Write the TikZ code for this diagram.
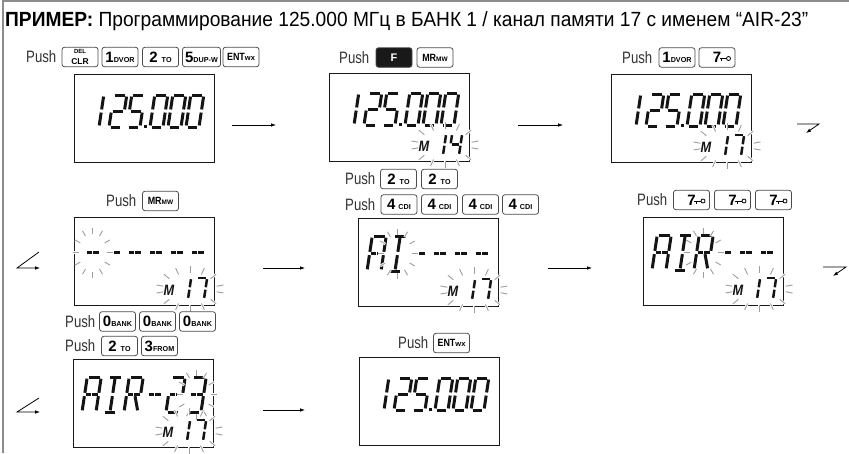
\documentclass[tikz,border=0pt]{standalone}
\usepackage{fontspec}
\usepackage{graphicx}
\setmainfont{Liberation Sans}
\newfontfamily\cond{Liberation Sans}[FakeStretch=0.85]
\newfontfamily\pushfont{Liberation Sans}[FakeStretch=0.8]
\usetikzlibrary{arrows.meta}

\tikzset{
 lcd/.style={draw=black!90, line width=1.4pt, minimum width=140pt, minimum height=88pt, inner sep=0pt, anchor=north west},
 keycap/.style={draw=black!70, line width=0.8pt, rounded corners=2.5pt, minimum width=36pt, minimum height=19.5pt, inner sep=0pt, font=\bfseries},
 pushtxt/.style={anchor=west, inner sep=0pt, font=\pushfont\fontsize{16.5}{16.5}\selectfont, text=black!80},
 mtxt/.style={inner sep=0pt, font=\cond\bfseries\itshape\fontsize{15}{15}\selectfont, text=black!92},
 arr/.style={line width=0.8pt, -{Latex[length=5pt,width=3.6pt]}},
 sl/.style={line width=\LW pt, black!92},
 ray/.style={line width=0.9pt, black!38},
 rayhalo/.style={line width=2.6pt, white},
}

% key labels
\newcommand\kb[1]{{\fontsize{15}{15}\selectfont #1}}
\newcommand\ks[1]{{\fontsize{7.2}{7.2}\selectfont #1}}
\newcommand\km[1]{{\cond\fontsize{10.5}{10.5}\selectfont #1}}

% segments (local coords, y negative = up)
\newcommand\sga{\draw[sl] (\G,-\H) -- (\W-\G,-\H);}
\newcommand\sgb{\draw[sl] (\W,-\H+\G) -- (\W,-\H/2-\G);}
\newcommand\sgc{\draw[sl] (\W,-\H/2+\G) -- (\W,-\G);}
\newcommand\sgd{\draw[sl] (\G,0) -- (\W-\G,0);}
\newcommand\sge{\draw[sl] (0,-\G) -- (0,-\H/2+\G);}
\newcommand\sgf{\draw[sl] (0,-\H/2-\G) -- (0,-\H+\G);}
\newcommand\sgg{\draw[sl] (\G,-\H/2) -- (\W-\G,-\H/2);}
\newcommand\sgp{\draw[sl] (\G*0.6,-\H/2) -- (\W/2-\G*0.5,-\H/2);}
\newcommand\sgq{\draw[sl] (\W/2+\G*0.5,-\H/2) -- (\W-\G*0.6,-\H/2);}
\newcommand\sgi{\draw[sl] (\W/2,-\H+\G) -- (\W/2,-\H/2-\G);}
\newcommand\sgj{\draw[sl] (\W/2,-\H/2+\G) -- (\W/2,-\G);}
\newcommand\sgk{\draw[sl] (\W/2+\G,-\H/2+\G) -- (\W-\G*0.4,-\G);}

\newcommand\glyph[6]{%
 \begin{scope}[shift={(#1,#2)}, xslant=0.15]
 \def\W{#3}\def\H{#4}\def\LW{#5}\pgfmathsetmacro\G{#3*0.12}%
 \foreach \sgname in {#6}{\csname sg\sgname\endcsname}%
 \end{scope}}

\newcommand\blink[7]{%
 \begin{scope}[shift={(#1,#2)}]
 \foreach \ang in {#7}{\draw[rayhalo] (\ang:#3 and #4) -- (\ang:#5 and #6);}
 \foreach \ang in {#7}{\draw[ray] (\ang:#3 and #4) -- (\ang:#5 and #6);}
 \end{scope}}

\newcommand\freq[2]{%
 \glyph{#1+12}{#2+53}{13}{32}{3}{b,c}%
 \glyph{#1+35}{#2+53}{13}{32}{3}{a,b,g,e,d}%
 \glyph{#1+53}{#2+53}{13}{32}{3}{a,f,g,c,d}%
 \fill[black!92] (#1+69.5,#2+51.3) rectangle (#1+72.5,#2+54.3);%
 \glyph{#1+76}{#2+53}{13}{32}{3}{a,b,c,d,e,f}%
 \glyph{#1+94}{#2+53}{13}{32}{3}{a,b,c,d,e,f}%
 \glyph{#1+112}{#2+53}{13}{32}{3}{a,b,c,d,e,f}}

% M group: name, R, B, second digit segments
\newcommand\mgroup[4]{%
 \node[mtxt] (#1) at (#2-45,#3-15) {M};%
 \glyph{#2-36}{#3-6}{10}{21}{2.5}{b,c}%
 \glyph{#2-20}{#3-6}{10}{21}{2.5}{#4}%
 \blink{#2-24}{#3-16}{27}{16}{34}{23}{10,40,65,90,115,140,170,190,220,245,270,295,320,350}}

% 14-seg character: bx, by, position, segments
\newcommand\lchar[4]{\glyph{#1+9+21*#3}{#2+53}{14}{35}{3}{#4}}
\newcommand\cblink[3]{\blink{#1+18.5+21*#3}{#2+35.5}{14}{19}{20}{25}{0,30,...,330}}

\newcommand\keyicon[1]{%
 \draw[line width=0.9pt] ([shift={(2.5,1)}]#1.center) -- ([shift={(9.5,1)}]#1.center);
 \draw[line width=0.8pt] ([shift={(4.5,1)}]#1.center) -- ([shift={(4.5,3.5)}]#1.center);
 \draw[line width=0.8pt] ([shift={(11.5,1)}]#1.center) circle (2pt);}

\begin{document}
\begin{tikzpicture}[x=1pt,y=-1pt]
\useasboundingbox (0,0) rectangle (849,453);
\fill[white] (0,0) rectangle (849,453);
\draw[black!45, line width=2pt] (3,453) -- (3,1) -- (849,1);

\node[anchor=base west, inner sep=0pt] (title) at (5,26) {\resizebox{803pt}{\height}{\fontsize{20.5}{24}\selectfont\textbf{ПРИМЕР:} Программирование 125.000 МГц в БАНК 1 / канал памяти 17 с именем “AIR-23”}};

% ---------- row 1 ----------
\node[pushtxt] (p1) at (26,57) {Push};
\node[keycap, align=center] (k11) at (80,57) {{\fontsize{6}{6}\selectfont DEL}\\[-1pt]{\fontsize{8.5}{8.5}\selectfont CLR}};
\node[keycap] (k12) at (120,57) {\kb{1}\ks{DVOR}};
\node[keycap] (k13) at (160.5,57) {\kb{2}\hspace{4pt}\ks{TO}};
\node[keycap, minimum width=38pt] (k14) at (201.5,57) {\kb{5}\ks{DUP-W}};
\node[keycap] (k15) at (241,57) {\km{ENT}{\fontsize{7.5}{7.5}\selectfont wx}};
\node[lcd] (d1) at (74,74) {};
\freq{74}{74}

\node[pushtxt] (p2) at (339,57.5) {Push};
\node[keycap, fill=black!90, text=white] (k21) at (394,57.5) {{\fontsize{11}{11}\selectfont F}};
\node[keycap] (k22) at (435,57.5) {\km{MR}{\fontsize{6.5}{6.5}\selectfont MW}};
\node[lcd] (d2) at (329,73) {};
\freq{329}{72}
\mgroup{m2}{469}{161}{f,g,b,c}

\node[pushtxt] (p3) at (622,57.5) {Push};
\node[keycap] (k31) at (677,57.5) {\kb{1}\ks{DVOR}};
\node[keycap] (k32) at (717,57.5) {\kb{7}\hspace{14pt}};
\keyicon{k32}
\node[lcd] (d3) at (611,74) {};
\freq{611}{73}
\mgroup{m3}{751}{162}{a,b,c}

% ---------- row 2 ----------
\node[pushtxt] (p4) at (106,201) {Push};
\node[keycap] (k41) at (160.5,201) {\km{MR}{\fontsize{6.5}{6.5}\selectfont MW}};
\node[lcd] (d4) at (74,217) {};
\foreach \pp in {0,...,5}{\lchar{74}{217}{\pp}{p,q}}
\cblink{74}{217}{0}
\mgroup{m4}{214}{305}{a,b,c}

\node[pushtxt] (p5a) at (345,179) {Push};
\node[keycap] (k51) at (398.5,179) {\kb{2}\hspace{4pt}\ks{TO}};
\node[keycap] (k52) at (439.5,179) {\kb{2}\hspace{4pt}\ks{TO}};
\node[pushtxt] (p5b) at (345,204.5) {Push};
\node[keycap] (k53) at (399,204.5) {\kb{4}\hspace{3pt}\ks{CDI}};
\node[keycap] (k54) at (439.5,204.5) {\kb{4}\hspace{3pt}\ks{CDI}};
\node[keycap] (k55) at (480.5,204.5) {\kb{4}\hspace{3pt}\ks{CDI}};
\node[keycap] (k56) at (520.5,204.5) {\kb{4}\hspace{3pt}\ks{CDI}};
\node[lcd] (d5) at (358,218) {};
\lchar{358}{218}{0}{a,b,c,e,f,p,q}
\lchar{358}{218}{1}{a,i,j,d}
\foreach \pp in {2,...,5}{\lchar{358}{218}{\pp}{p,q}}
\cblink{358}{218}{1}
\mgroup{m5}{498}{306}{a,b,c}

\node[pushtxt] (p6) at (637,200) {Push};
\node[keycap] (k61) at (691.5,200) {\kb{7}\hspace{14pt}};
\node[keycap] (k62) at (732.5,200) {\kb{7}\hspace{14pt}};
\node[keycap] (k63) at (773.5,200) {\kb{7}\hspace{14pt}};
\keyicon{k61}\keyicon{k62}\keyicon{k63}
\node[lcd] (d6) at (643,217) {};
\lchar{643}{217}{0}{a,b,c,e,f,p,q}
\lchar{643}{217}{1}{a,i,j,d}
\lchar{643}{217}{2}{a,b,f,e,p,q,k}
\foreach \pp in {3,...,5}{\lchar{643}{217}{\pp}{p,q}}
\cblink{643}{217}{2}
\mgroup{m6}{783}{305}{a,b,c}

% ---------- row 3 ----------
\node[pushtxt] (p7a) at (65,321.5) {Push};
\node[keycap] (k71) at (117.5,321.5) {\kb{0}\ks{BANK}};
\node[keycap] (k72) at (157.5,321.5) {\kb{0}\ks{BANK}};
\node[keycap] (k73) at (197.5,321.5) {\kb{0}\ks{BANK}};
\node[pushtxt] (p7b) at (65,346) {Push};
\node[keycap] (k74) at (119.5,346) {\kb{2}\hspace{4pt}\ks{TO}};
\node[keycap] (k75) at (159.5,346) {\kb{3}\ks{FROM}};
\node[lcd] (d7) at (73,359) {};
\lchar{73}{359}{0}{a,b,c,e,f,p,q}
\lchar{73}{359}{1}{a,i,j,d}
\lchar{73}{359}{2}{a,b,f,e,p,q,k}
\lchar{73}{359}{3}{p,q}
\lchar{73}{359}{4}{a,b,p,q,e,d}
\lchar{73}{359}{5}{a,b,p,q,c,d}
\cblink{73}{359}{5}
\mgroup{m7}{213}{447}{a,b,c}

\node[pushtxt] (p8) at (398,343) {Push};
\node[keycap] (k81) at (451.5,343) {\km{ENT}{\fontsize{7.5}{7.5}\selectfont wx}};
\node[lcd] (d8) at (359,357) {};
\freq{359}{357}

% ---------- arrows ----------
\coordinate (a1s) at (232,125); \coordinate (a1e) at (276,125);
\coordinate (a2s) at (518,125); \coordinate (a2e) at (563,125);
\coordinate (b1a) at (797,124); \coordinate (b1b) at (819,124); \coordinate (b1c) at (806,133);
\coordinate (l2a) at (39,252); \coordinate (l2b) at (17,268); \coordinate (l2c) at (40,268);
\coordinate (a3s) at (263,268); \coordinate (a3e) at (305,268);
\coordinate (a4s) at (548,268); \coordinate (a4e) at (592,268);
\coordinate (b2a) at (823,267); \coordinate (b2b) at (846,267); \coordinate (b2c) at (833,276);
\coordinate (l3a) at (39,398); \coordinate (l3b) at (17,412); \coordinate (l3c) at (40,412);
\coordinate (a5s) at (263,410); \coordinate (a5e) at (305,410);
\draw[arr] (a1s) -- (a1e);
\draw[arr] (a2s) -- (a2e);
\draw[arr] (b1a) -- (b1b) -- (b1c);
\draw[arr] (l2a) -- (l2b) -- (l2c);
\draw[arr] (a3s) -- (a3e);
\draw[arr] (a4s) -- (a4e);
\draw[arr] (b2a) -- (b2b) -- (b2c);
\draw[arr] (l3a) -- (l3b) -- (l3c);
\draw[arr] (a5s) -- (a5e);
\end{tikzpicture}
\end{document}
